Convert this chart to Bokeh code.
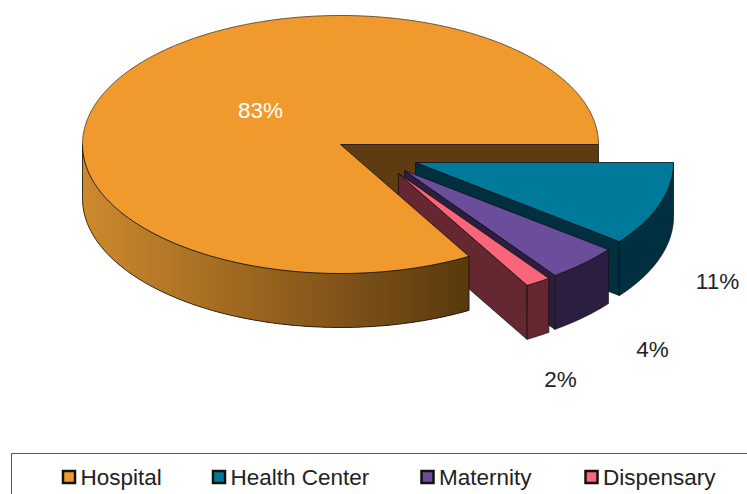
import numpy as np
from bokeh.embed import file_html
from bokeh.resources import INLINE
from bokeh.plotting import figure
from bokeh.models import Range1d
from bokeh.core.properties import value

# ---- data
categories = ["Hospital", "Health Center", "Maternity", "Dispensary"]
shares = [83.3, 10.5, 4.6, 1.6]
labels = ["83%", "11%", "4%", "2%"]

# ---- styles and layout
top_colors = ["#F09A2E", "#007A9A", "#6B4E9B", "#F9667A"]
wall_colors = ["#5E3B10", "#00303F", "#2B1E40", "#652830"]
CX, CY, RX, RY, DEPTH = 340.0, 144.0, 258.0, 129.0, 54.0
APEX = {"Hospital": (340, 144), "Health Center": (415, 162), "Maternity": (404, 170), "Dispensary": (398, 173)}
LABEL_XY = {"Hospital": (260, 110), "Health Center": (717, 281), "Maternity": (652, 349), "Dispensary": (560, 379)}
LEGEND_SWATCH_X = {"Hospital": 68.5, "Health Center": 218.5, "Maternity": 427, "Dispensary": 591}
LEGEND_Y = 476.5
FONT = value("Liberation Sans")
EDGE = "#111111"

p = figure(width=747, height=494, x_range=Range1d(0, 747), y_range=Range1d(494, 0),
           output_backend="svg", toolbar_location=None, min_border=0,
           x_axis_type=None, y_axis_type=None)
p.outline_line_color = None
p.grid.visible = False
p.background_fill_color = "white"
p.border_fill_color = "white"


def arc(ax, ay, a0, a1, n=120):
    t = np.radians(np.linspace(a0, a1, n))
    return ax + RX * np.cos(t), ay - RY * np.sin(t)


# slice angles: Hospital from 0 deg counter-clockwise, then the others back to 360
order = ["Hospital", "Dispensary", "Maternity", "Health Center"]
share = dict(zip(categories, shares))
angles = {}
cur = 0.0
for c in order:
    angles[c] = (cur, cur + share[c] * 3.6)
    cur += share[c] * 3.6
top = dict(zip(categories, top_colors))
wall = dict(zip(categories, wall_colors))

# inner cut face of the big slice, at its 0 deg edge
ax, ay = APEX["Hospital"]
p.patch([ax, ax + RX, ax + RX, ax], [ay, ay, ay + DEPTH, ay + DEPTH],
        fill_color=wall["Hospital"], line_color=EDGE, line_width=0.8)

# exploded slices, back to front
for c in ["Health Center", "Maternity", "Dispensary"]:
    a0, a1 = angles[c]
    ax, ay = APEX[c]
    xs, ys = arc(ax, ay, a0, a1)
    # side cut
    p.patch([ax, xs[0], xs[0], ax], [ay, ys[0], ys[0] + DEPTH, ay + DEPTH],
            fill_color=wall[c], line_color=EDGE, line_width=0.8)
    # outer wall
    p.patch(np.r_[xs, xs[::-1]], np.r_[ys, ys[::-1] + DEPTH],
            fill_color=wall[c], line_color=EDGE, line_width=0.8)
    # top
    p.patch(np.r_[ax, xs], np.r_[ay, ys], fill_color=top[c], line_color=EDGE, line_width=0.8)

# big slice: rim with a horizontal shade, then its top
a0, a1 = angles["Hospital"]
ax, ay = APEX["Hospital"]
xe, ye = arc(ax, ay, 180, a1, 130)
x_l, x_r = xe[0], xe[-1]
c_left = np.array([206, 138, 46])
c_right = np.array([90, 57, 15])
xss, yss, cols = [], [], []
for i in range(len(xe) - 1):
    f = ((xe[i] + xe[i + 1]) / 2 - x_l) / (x_r - x_l)
    rgb = (1 - f) * c_left + f * c_right
    cols.append("#%02x%02x%02x" % tuple(int(v) for v in rgb))
    # each strip runs on under the next one, so that no seams show
    j = min(i + 3, len(xe) - 1)
    xss.append([xe[i], *xe[i + 1:j + 1], *xe[i + 1:j + 1][::-1], xe[i]])
    yss.append([ye[i], *ye[i + 1:j + 1], *(ye[i + 1:j + 1][::-1] + DEPTH), ye[i] + DEPTH])
p.patches(xss, yss, fill_color=cols, line_color=None)
p.line(xe, ye + DEPTH, line_color=EDGE, line_width=0.8)
p.line([xe[0], xe[0]], [ye[0], ye[0] + DEPTH], line_color=EDGE, line_width=0.8)
p.line([xe[-1], xe[-1]], [ye[-1], ye[-1] + DEPTH], line_color=EDGE, line_width=0.8)

xs, ys = arc(ax, ay, a0, a1, 360)
p.patch(np.r_[ax, xs], np.r_[ay, ys], fill_color=top["Hospital"], line_color=None)
xu, yu = arc(ax, ay, a0, 180, 180)
p.line(xu, yu, line_color="#5A4A30", line_width=0.9)
xl, yl = arc(ax, ay, 180, a1, 130)
p.line(xl, yl, line_color=EDGE, line_width=0.9)
p.line([xs[0], ax, xs[-1]], [ys[0], ay, ys[-1]], line_color=EDGE, line_width=0.8)

# percentage labels
for c, lab in zip(categories, labels):
    lx, ly = LABEL_XY[c]
    p.text([lx], [ly], text=[lab], text_font=FONT, text_font_size="22.5px", text_align="center",
           text_baseline="middle", text_color="white" if c == "Hospital" else "#222222")

# legend
p.quad(left=[11], right=[770], top=[453], bottom=[530], fill_color=None, line_color="#555555", line_width=1)
for c in categories:
    sx = LEGEND_SWATCH_X[c]
    p.scatter([sx], [LEGEND_Y], marker="square", size=12, fill_color=top[c], line_color="#111111",
              line_width=2.5, line_join="miter")
    p.text([sx + 11.5], [LEGEND_Y], text=[c], text_font=FONT, text_font_size="22.5px", text_align="left",
           text_baseline="middle", text_color="#222222")

open("out.html", "w").write(file_html(p, INLINE))
